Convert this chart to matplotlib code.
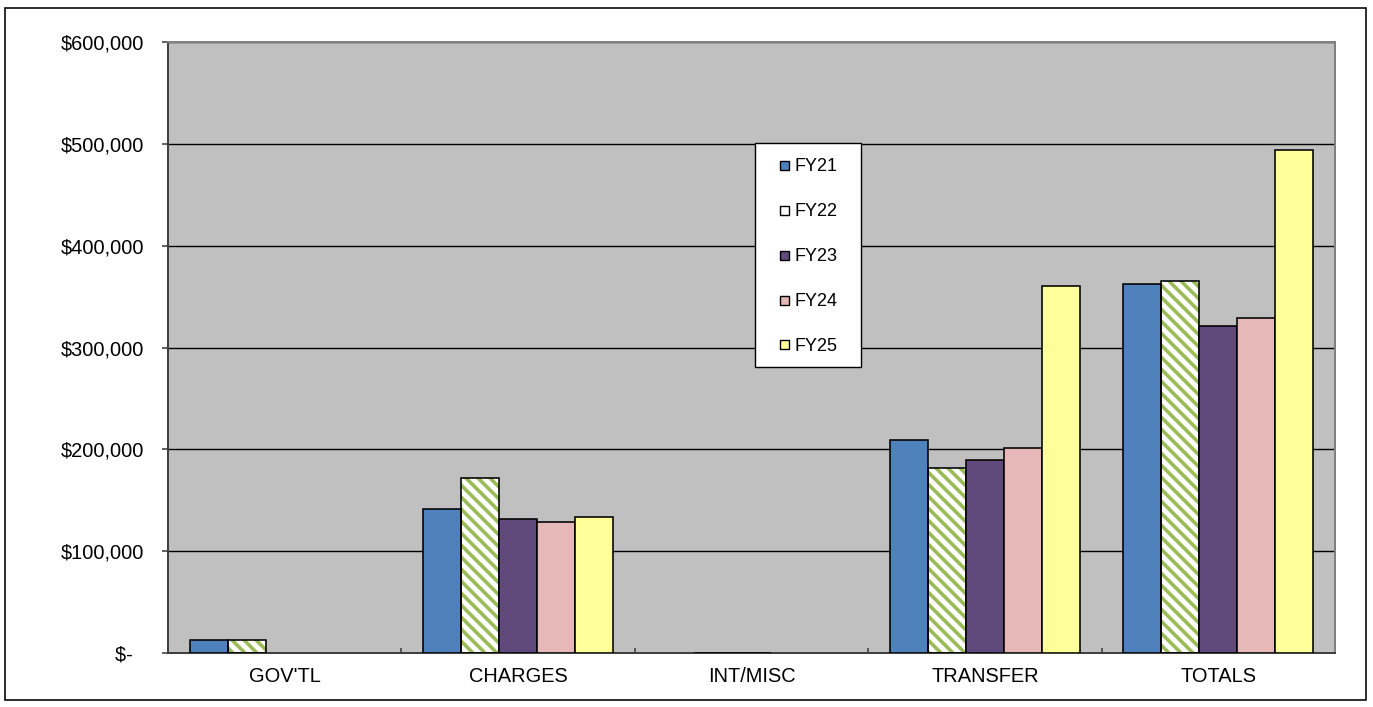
"""Grouped bar chart of revenue by source, FY21 to FY25."""

import numpy as np
import matplotlib
matplotlib.use('Agg')
from matplotlib import pyplot as plt
from matplotlib.lines import Line2D
from matplotlib.patches import Rectangle
from matplotlib.ticker import FuncFormatter

CATEGORIES = ["GOV'TL", 'CHARGES', 'INT/MISC', 'TRANSFER', 'TOTALS']
SERIES = ['FY21', 'FY22', 'FY23', 'FY24', 'FY25']
FY21 = [12500, 141000, 0, 209500, 362000]
FY22 = [12500, 172000, 400, 181500, 365000]
FY23 = [0, 132000, 400, 190000, 321000]
FY24 = [0, 128500, 0, 201000, 328500]
FY25 = [0, 133500, 0, 360500, 494000]
Y_TICKS = [0, 100000, 200000, 300000, 400000, 500000, 600000]

COLORS = ['#4F81BD', '#FFFFFF', '#604A7B', '#E6B9B8', '#FFFF99']
HATCH_GREEN = '#9BBB59'
HATCH = chr(92) * 4

DPI = 144
plt.rcParams['font.family'] = ['Liberation Sans', 'DejaVu Sans']
plt.rcParams['hatch.linewidth'] = 1.8


def _money(v, _pos=None):
    if v == 0:
        return '$-  '
    return f'${v:,.0f}'


def main():
    fig = plt.figure(figsize=(1373 / DPI, 707 / DPI), dpi=DPI)
    ax = fig.add_axes([168 / 1373, 1 - 653 / 707, 1167 / 1373, 611 / 707])
    ax.set_facecolor('#C0C0C0')

    # Bars
    x = np.arange(len(CATEGORIES))
    width = 0.163
    all_series = [FY21, FY22, FY23, FY24, FY25]
    for i, (name, vals) in enumerate(zip(SERIES, all_series)):
        pos = x + (i - 2) * width
        if name == 'FY22':
            hb = ax.bar(pos, vals, width, color='white', edgecolor=HATCH_GREEN,
                        linewidth=0, hatch=HATCH, zorder=2)
            for p in hb.patches:
                p.set_visible(p.get_height() > 0)
            bars = ax.bar(pos, vals, width, fill=False, edgecolor='black',
                          linewidth=0.8, zorder=3)
        else:
            bars = ax.bar(pos, vals, width, color=COLORS[i],
                          edgecolor='black', linewidth=0.8, zorder=3)
        for p in bars.patches:
            p.set_visible(p.get_height() > 0)

    # Axes
    ax.set_xlim(-0.5, len(CATEGORIES) - 0.5)
    ax.set_ylim(0, 600000)
    ax.set_yticks(Y_TICKS)
    ax.yaxis.set_major_formatter(FuncFormatter(_money))
    ax.set_xticks(x)
    ax.set_xticklabels(CATEGORIES)
    ax.set_xticks(np.arange(-0.5, len(CATEGORIES)), minor=True)
    ax.tick_params(axis='x', which='major', length=0, pad=7, labelsize=10)
    ax.tick_params(axis='x', which='minor', direction='in', length=2.5,
                   width=0.8, color='#404040')
    ax.tick_params(axis='y', direction='out', length=3, width=0.8,
                   color='#404040', pad=9, labelsize=10)
    ax.set_axisbelow(True)
    ax.yaxis.grid(True, color='black', linewidth=0.7)
    for side in ['top', 'right']:
        ax.spines[side].set_color('#808080')
        ax.spines[side].set_linewidth(1.0)
    for side in ['left', 'bottom']:
        ax.spines[side].set_color('#404040')
        ax.spines[side].set_linewidth(1.0)

    # Legend box and entries
    ax.add_patch(Rectangle((0.503, 0.468), 0.0908, 0.3666,
                           transform=ax.transAxes, facecolor='white',
                           edgecolor='black', linewidth=0.7, zorder=5))
    handles = [
        Line2D([], [], linestyle='', marker='s', markersize=4.5,
               markerfacecolor=c, markeredgecolor='black',
               markeredgewidth=0.7)
        for c in COLORS
    ]
    leg = ax.legend(handles, SERIES, loc='center',
                    bbox_to_anchor=(0.5484, 0.649), frameon=False,
                    fontsize=9, borderpad=0, handlelength=0.6,
                    handletextpad=0.26, labelspacing=1.55)
    leg.set_zorder(6)

    # Outer chart border
    fig.add_artist(Rectangle((5 / 1373, 1 - 700 / 707), 1361 / 1373,
                             692 / 707, transform=fig.transFigure,
                             fill=False, edgecolor='black', linewidth=0.8))

    fig.savefig('out.png', dpi=DPI)


if __name__ == '__main__':
    main()
